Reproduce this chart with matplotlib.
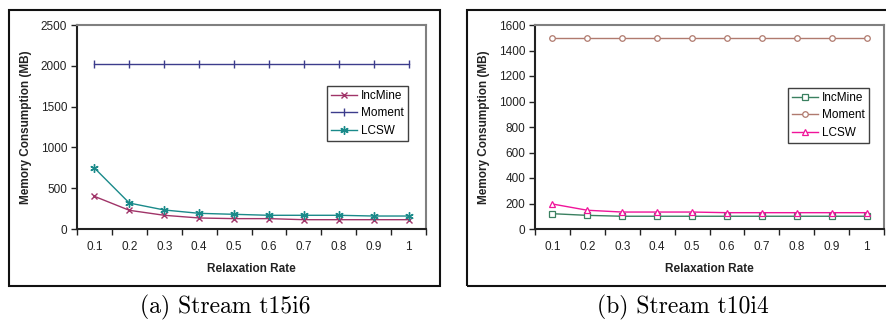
import matplotlib
matplotlib.use("Agg")
import matplotlib.pyplot as plt
from matplotlib.patches import Rectangle

plt.rcParams["font.family"] = ["Liberation Sans", "DejaVu Sans"]

# ---- data ----
rates = ["0.1", "0.2", "0.3", "0.4", "0.5", "0.6", "0.7", "0.8", "0.9", "1"]

t15_incmine = [400, 229, 168, 135, 127, 127, 114, 114, 114, 114]
t15_moment = [2020, 2020, 2020, 2020, 2020, 2020, 2020, 2020, 2020, 2020]
t15_lcsw = [747, 318, 233, 192, 180, 168, 168, 168, 159, 159]

t10_incmine = [120, 107, 100, 100, 100, 100, 100, 100, 100, 100]
t10_moment = [1500, 1500, 1500, 1500, 1500, 1500, 1500, 1500, 1500, 1500]
t10_lcsw = [196, 147, 133, 133, 133, 128, 128, 128, 128, 128]

W, H = 886, 320


def px_axes(fig, x0, x1, y0, y1):
    # pixel box (top-left origin) -> figure fractions
    return fig.add_axes([x0 / W, (H - y1) / H, (x1 - x0) / W, (y1 - y0) / H])


def style_axes(ax, ymax, ystep):
    n = len(rates)
    xs = list(range(n))
    ax.set_xlim(-0.5, n - 0.5)
    ax.set_ylim(0, ymax)
    ax.set_xticks(xs)
    ax.set_xticklabels(rates)
    ax.set_xticks([i + 0.5 for i in range(-1, n)], minor=True)
    ax.tick_params(axis="x", which="major", length=0, pad=9, labelsize=8.5, colors="#222222")
    ax.tick_params(axis="x", which="minor", length=4, width=1, color="#222222")
    ax.set_yticks(range(0, ymax + 1, ystep))
    ax.tick_params(axis="y", length=4, width=1, labelsize=8.5, color="#222222",
                   labelcolor="#222222", pad=3)
    for s in ("left", "bottom"):
        ax.spines[s].set_color("#222222")
        ax.spines[s].set_linewidth(1.5)
    for s in ("top", "right"):
        ax.spines[s].set_color("#808080")
        ax.spines[s].set_linewidth(1.5)
    ax.set_xlabel("Relaxation Rate", fontsize=8.5, fontweight="bold", color="#222222", labelpad=7)
    ax.set_ylabel("Memory Consumption (MB)", fontsize=8.5, fontweight="bold", color="#222222")
    ax.yaxis.set_label_coords(-0.128, 0.5)
    return xs


def add_legend(ax, x_px, y_px, x0, y1):
    leg = ax.legend(loc="upper left", bbox_to_anchor=((x_px - x0) / 349, (y1 - y_px) / 204),
                    fontsize=8.5, frameon=True, fancybox=False, handlelength=2.2,
                    borderpad=0.35, labelspacing=0.45, handletextpad=0.3, borderaxespad=0)
    leg.get_frame().set_edgecolor("#111111")
    leg.get_frame().set_linewidth(1)


fig = plt.figure(figsize=(W / 100, H / 100), dpi=100)

# outer frames
fig.patches.append(Rectangle((9 / W, (H - 286) / H), 431 / W, 276 / H, transform=fig.transFigure,
                             fill=False, edgecolor="#111111", linewidth=1.5))
fig.patches.append(Rectangle((467 / W, (H - 286) / H), 425 / W, 276 / H, transform=fig.transFigure,
                             fill=False, edgecolor="#111111", linewidth=1.5))

# (a) Stream t15i6
ax1 = px_axes(fig, 77, 426, 25, 229)
xs = style_axes(ax1, 2500, 500)
ax1.plot(xs, t15_incmine, color="#A03468", lw=1, marker="x", ms=5, mew=1, label="IncMine")
ax1.plot(xs, t15_moment, color="#3C3C8C", lw=1, marker="|", ms=6, mew=1, label="Moment")
ax1.plot(xs, t15_lcsw, color="#1A8A8A", lw=1, marker=(6, 2, 0), ms=6, mew=1, label="LCSW")
add_legend(ax1, 327, 86, 77, 229)

# (b) Stream t10i4
ax2 = px_axes(fig, 535, 884, 25, 229)
xs = style_axes(ax2, 1600, 200)
ax2.plot(xs, t10_incmine, color="#3A8060", lw=1, marker="s", ms=4.5, mew=0.9,
         mfc="white", label="IncMine")
ax2.plot(xs, t10_moment, color="#B07A6E", lw=1, marker="o", ms=4, mew=0.9,
         mfc="white", label="Moment")
ax2.plot(xs, t10_lcsw, color="#F0149A", lw=1, marker="^", ms=5, mew=0.9,
         mfc="white", label="LCSW")
add_legend(ax2, 788, 88, 535, 229)

# captions
fig.text(225 / W, (H - 307) / H, "(a) Stream t15i6", ha="center", va="center",
         fontsize=17, family=["cmr10", "DejaVu Serif"])
fig.text(683 / W, (H - 307) / H, "(b) Stream t10i4", ha="center", va="center",
         fontsize=17, family=["cmr10", "DejaVu Serif"])

fig.savefig("out.png", dpi=100)
